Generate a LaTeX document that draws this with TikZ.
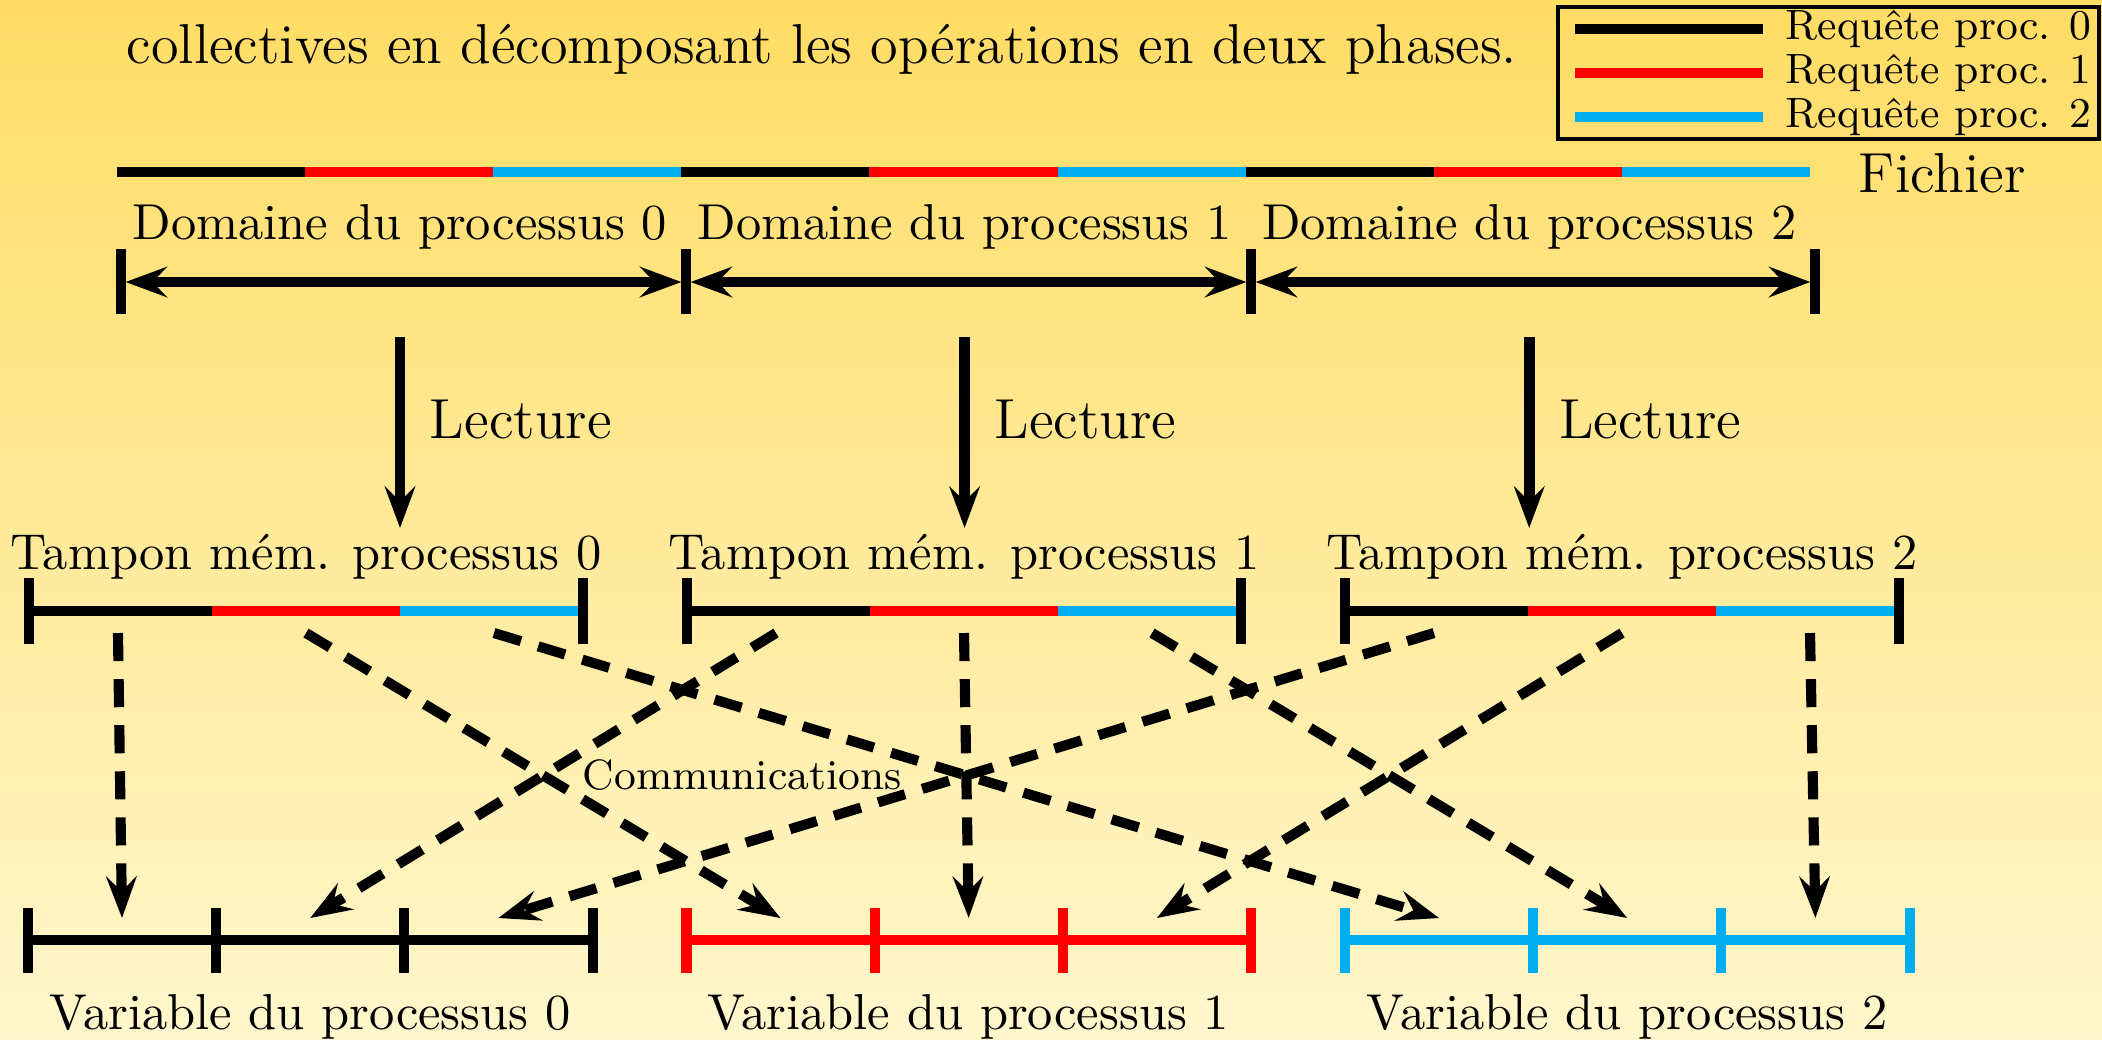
\documentclass[tikz,border=0pt]{standalone}
\usepackage{tikz}
\usetikzlibrary{arrows.meta, positioning, calc}
\definecolor{reqcyan}{RGB}{0,174,239}
\definecolor{fondhaut}{RGB}{255,220,100}
\definecolor{fondbas}{RGB}{255,247,205}
\tikzstyle{seg}    = [line width=2.3pt]
\tikzstyle{borne}  = [line width=2.2pt]
\tikzstyle{arrow}  = [line width=2.3pt, -{Stealth[length=9pt, width=6.6pt, inset=3.2pt]}]

\begin{document}
\begin{tikzpicture}[x=0.217pt, y=-0.217pt,
    lbl/.style={font=\fontsize{10.95}{13}\selectfont, anchor=base, inner sep=0pt},
    big/.style={font=\fontsize{12.25}{14}\selectfont, anchor=base west, inner sep=0pt},
    sml/.style={font=\fontsize{9.2}{11}\selectfont, anchor=base west, inner sep=0pt},
    darr/.style={line width=2.2pt, {Stealth[length=9pt, width=6.6pt, inset=3.2pt]}-{Stealth[length=9pt, width=6.6pt, inset=3.2pt]},
                 shorten <=1pt, shorten >=1pt},
    com/.style={arrow, line width=2.2pt, dash pattern=on 6.1pt off 3.9pt}]

  \useasboundingbox (0,0) rectangle (2102,1039);
  \shade[top color=fondhaut, bottom color=fondbas] (0,0) rectangle (2102,1039);

  \node[big, font=\fontsize{12.2}{14}\selectfont] (titre) at (126,63) {collectives en décomposant les opérations en deux phases.};

  % legende
  \draw[line width=0.7pt] (1558,7) rectangle (2099,139);
  \foreach \c [count=\i from 0] in {black,red,reqcyan} {
    \draw[seg,\c] (1575,{29+44*\i}) -- (1763,{29+44*\i});
    \node[sml] (leg\i) at (1785,{39+44*\i}) {Requête proc. \i};
  }

  % fichier
  \foreach \c [count=\k from 0] in {black,red,reqcyan,black,red,reqcyan,black,red,reqcyan}
    \draw[seg,\c] ({117+188.1*\k},172) -- ({117+188.1*(\k+1)},172);
  \node[big] (fichier) at (1858,192) {Fichier};

  % domaines
  \foreach \d in {0,1,2}
    \node[lbl] (dom\d) at ({400+564.6*\d},239) {Domaine du processus \d};
  \foreach \x [count=\j from 0] in {121,686,1251,1815} {
    \draw[borne] (\x,249) -- (\x,314);
    \coordinate (dt\j) at (\x,282);
  }
  \foreach \a/\b in {0/1,1/2,2/3}
    \draw[darr] (dt\a) -- (dt\b);

  % lecture
  \foreach \d in {0,1,2} {
    \coordinate (lh\d) at ({400+564.6*\d},337);
    \coordinate (lb\d) at ({400+564.6*\d},528);
    \draw[arrow] (lh\d) -- (lb\d);
    \node[big] (lec\d) at ({429+564.6*\d},438) {Lecture};
  }

  % tampons
  \foreach \b in {0,1,2} {
    \node[lbl] (tamp\b) at ({306+658*\b},569) {Tampon mém. processus \b};
    \draw[seg,black]   ({29+658*\b},611) -- ({212+658*\b},611);
    \draw[seg,red]     ({212+658*\b},611) -- ({400+658*\b},611);
    \draw[seg,reqcyan] ({400+658*\b},611) -- ({583+658*\b},611);
    \draw[borne] ({29+658*\b},578) -- ({29+658*\b},644);
    \draw[borne] ({583+658*\b},578) -- ({583+658*\b},644);
    \foreach \s in {0,1,2}
      \coordinate (buf\b\s) at ({118+658*\b+188*\s},633);
  }

  % variables
  \foreach \c [count=\v from 0] in {black,red,reqcyan} {
    \draw[seg,\c] ({28+658.5*\v},940) -- ({592.6+658.5*\v},940);
    \foreach \k in {0,...,3}
      \draw[borne,\c] ({28+658.5*\v+188.2*\k},908) -- ({28+658.5*\v+188.2*\k},973);
    \foreach \t in {0,1,2}
      \coordinate (var\v\t) at ({122+658.5*\v+188.2*\t},918);
    \node[lbl] (vari\v) at ({310+658.5*\v},1029) {Variable du processus \v};
  }

  % communications
  \foreach \b in {0,1,2}
    \foreach \s in {0,1,2}
      \draw[com] (buf\b\s) -- (var\s\b);
  \node[sml] (comm) at (582,789) {Communications};
\end{tikzpicture}
\end{document}
